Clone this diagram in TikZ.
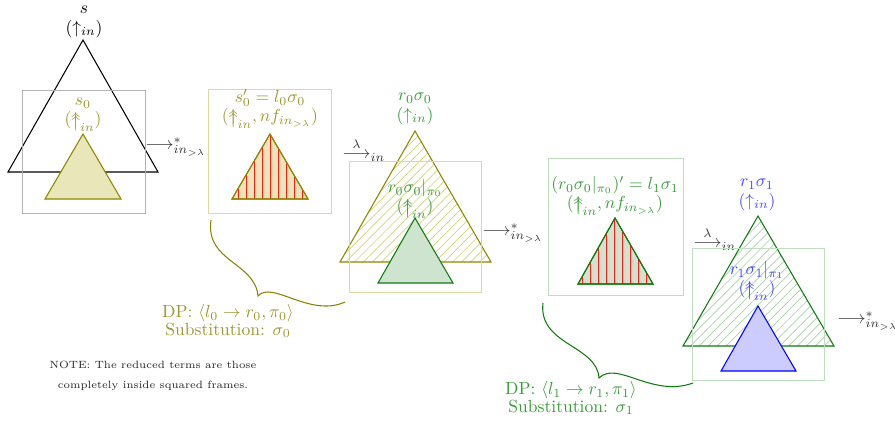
\documentclass[tikz,border=0pt]{standalone}
\usepackage{amsmath,amssymb}
\usetikzlibrary{patterns, patterns.meta, fit}
\definecolor{oltext} {HTML}{9C962E}
\definecolor{olline} {HTML}{8A8200}
\definecolor{gtext}  {HTML}{3A9A3A}
\definecolor{gline}  {HTML}{107A10}
\definecolor{btext}  {HTML}{4848F4}
% up arrow with two heads, for the "innermost" redexes
\newcommand\twoup{\mathrel{\ooalign{$\uparrow$\cr\raisebox{-0.35ex}{$\uparrow$}}}}
\newcommand\redin{\ensuremath{\longrightarrow^{*}_{in_{>\lambda}}}}
\newcommand\stepin{\ensuremath{\overset{\lambda}{\longrightarrow}_{in}}}
\tikzset{
  frame/.style   = {draw, line width=0.5pt, inner sep=0pt},
  term/.style    = {line width=0.6pt, line join=miter},
  subterm/.style = {term, fill=#1!20, draw=#1},
  hatch/.style   = {term, draw=#1,
                    pattern={Lines[angle=45, distance=3.6pt, line width=0.4pt]},
                    pattern color=#1!35},
  redline/.style = {red!90!white, line width=0.4pt},
  lbl/.style     = {align=center, inner sep=1pt, font=\fontsize{10}{11}\selectfont},
  dplbl/.style   = {lbl, font=\fontsize{10}{10}\selectfont},
  rel/.style     = {anchor=west, inner sep=0pt, text=black!80},
  brace/.style   = {line width=0.6pt},
}

\begin{document}
\begin{tikzpicture}[x=0.57pt, y=-0.57pt]
  \useasboundingbox (0,0) rectangle (895,420);

  % s and its innermost subterm s_0
  \draw[term, black] (83,40) -- (8,172) -- (158,172) -- cycle;
  \node[lbl] (s) at (84,22) {$s$\\$(\uparrow_{in})$};
  \node[frame, draw=black!30, fit={(22,90) (145,213)}] (f1) {};
  \draw[subterm=olive] (83,134) -- (45,199) -- (121,199) -- cycle;
  \node[lbl, text=oltext] (s0) at (83,115) {$s_0$\\$(\twoup_{in})$};
  \node[rel] (rw1) at (145,147) {\redin};

  % s_0' = l_0 sigma_0
  \node[frame, draw=olive!30, fit={(208,89) (331,213)}] (f2) {};
  \draw[subterm=olive] (270,134) -- (232,199) -- (308,199) -- cycle;
  \begin{scope}
    \clip (270,134) -- (232,199) -- (308,199) -- cycle;
    \foreach \x in {238,246,...,302}
      \draw[redline] (\x,130) -- (\x,200);
  \end{scope}
  \draw[term, olive] (270,134) -- (232,199) -- (308,199) -- cycle;
  \node[lbl, text=oltext] (s0p) at (270,109)
    {$s'_0 = l_0\sigma_0$\\$(\twoup_{in}, nf_{in_{>\lambda}})$};
  \node[rel] (rw2) at (342,150) {\stepin};

  % r_0 sigma_0
  \draw[hatch=olive] (415,131) -- (340,262) -- (491,262) -- cycle;
  \node[lbl, text=gtext] (r0) at (415,109) {$r_0\sigma_0$\\$(\uparrow_{in})$};
  \node[frame, draw=olive!30, fit={(349,161) (481,292)}] (f3) {};
  \draw[subterm=gline] (415,218) -- (378,283) -- (453,283) -- cycle;
  \node[lbl, text=gtext] (r0p) at (415,199) {$r_0\sigma_0|_{\pi_0}$\\$(\twoup_{in})$};
  \node[rel] (rw3) at (482,233) {\redin};

  % (r_0 sigma_0|pi_0)' = l_1 sigma_1
  \node[frame, draw=green!50!black!25, fit={(548,158) (683,295)}] (f4) {};
  \draw[subterm=gline] (615,218) -- (578,284) -- (653,284) -- cycle;
  \begin{scope}
    \clip (615,218) -- (578,284) -- (653,284) -- cycle;
    \foreach \x in {582,590,...,654}
      \draw[redline] (\x,214) -- (\x,285);
  \end{scope}
  \draw[term, gline] (615,218) -- (578,284) -- (653,284) -- cycle;
  \node[lbl, text=gtext] (l1) at (615,196)
    {$(r_0\sigma_0|_{\pi_0})' = l_1\sigma_1$\\$(\twoup_{in}, nf_{in_{>\lambda}})$};
  \node[rel] (rw4) at (693,239) {\stepin};

  % r_1 sigma_1
  \draw[hatch=gline] (758,216) -- (683,346) -- (834,346) -- cycle;
  \node[lbl, text=btext] (r1) at (757,195) {$r_1\sigma_1$\\$(\uparrow_{in})$};
  \node[frame, draw=green!50!black!25, fit={(692,248) (824,380)}] (f5) {};
  \draw[subterm=blue] (758,306) -- (721,371) -- (796,371) -- cycle;
  \node[lbl, text=btext] (r1p) at (757,281) {$r_1\sigma_1|_{\pi_1}$\\$(\twoup_{in})$};
  \node[rel] (rw5) at (837,321) {\redin};

  % dependency pairs
  \coordinate (b0a) at (211,220);
  \coordinate (b0t) at (258,296);
  \coordinate (b0b) at (345,302);
  \draw[brace, olline] (b0a) .. controls (205,262) and (255,262) .. (b0t)
                             .. controls (272,280) and (310,318) .. (b0b);
  \node[dplbl, text=oltext] (dp0) at (228,321)
    {DP: $\langle l_0 \to r_0, \pi_0\rangle$\\Substitution: $\sigma_0$};

  \coordinate (b1a) at (543,303);
  \coordinate (b1t) at (599,378);
  \coordinate (b1b) at (693,383);
  \draw[brace, gline] (b1a) .. controls (538,345) and (597,345) .. (b1t)
                            .. controls (617,360) and (652,398) .. (b1b);
  \node[dplbl, text=gtext] (dp1) at (571,398)
    {DP: $\langle l_1 \to r_1, \pi_1\rangle$\\Substitution: $\sigma_1$};

  \node[lbl, font=\fontsize{6}{7}\selectfont, text=black!85] (note) at (153,376)
    {NOTE: The reduced terms are those\\[4pt]completely inside squared frames.};
\end{tikzpicture}
\end{document}
